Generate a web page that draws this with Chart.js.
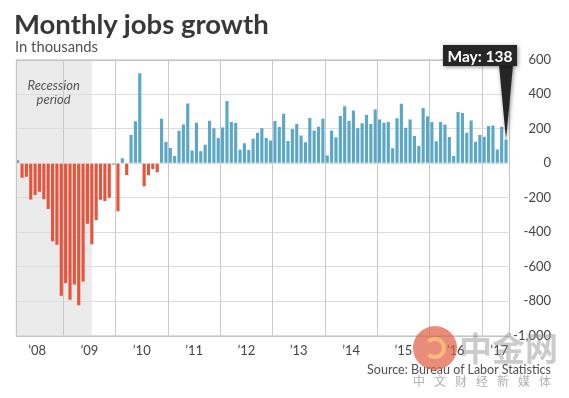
<!DOCTYPE html>
<html lang="en">
<head>
  <meta charset="UTF-8" />
  <title>Monthly jobs growth</title>
  <script src="https://cdn.jsdelivr.net/npm/chart.js"></script>
  <style>
    html, body { margin: 0; padding: 0; background: #fff; }
    #wrap { position: relative; width: 569px; height: 398px; overflow: hidden; font-family: Lato, "Open Sans", sans-serif; }
    #chart { position: absolute; left: 0; top: 0; }
    .title { position: absolute; left: 14px; top: 7px; font-size: 27.5px; font-weight: 700; color: #383838; line-height: 33px; white-space: nowrap; }
    .sub { position: absolute; left: 15px; top: 38px; font-size: 14.8px; color: #505050; line-height: 16px; white-space: nowrap; }
    .source { position: absolute; right: 18px; top: 362px; font-size: 12.5px; color: #505050; line-height: 16px; white-space: nowrap; }
    .wm-logo { position: absolute; left: 413px; top: 326px; width: 44px; height: 44px; border-radius: 50%; background: rgba(226, 95, 70, 0.72); }
    .wm-logo::after { content: ""; position: absolute; left: 11px; top: 11px; width: 22px; height: 22px; border-radius: 50%; border: 4px solid rgba(250, 200, 120, 0.8); border-left-color: transparent; box-sizing: border-box; }
    .wm-big { position: absolute; left: 459px; top: 326px; font-size: 33px; font-weight: 700; color: rgba(140, 140, 140, 0.45); font-family: "Noto Sans CJK SC", sans-serif; line-height: 42px; white-space: nowrap; }
    .wm-small { position: absolute; left: 413px; top: 373px; font-size: 12px; color: #b0b0b0; letter-spacing: 9px; font-family: "Noto Sans CJK SC", sans-serif; line-height: 16px; white-space: nowrap; }
  </style>
</head>
<body>
<div id="wrap">
  <canvas id="chart" width="569" height="398"></canvas>
  <div class="title">Monthly jobs growth</div>
  <div class="sub">In thousands</div>
  <div class="source">Source: Bureau of Labor Statistics</div>
  <div class="wm-logo"></div>
  <div class="wm-big">中金网</div>
  <div class="wm-small">中文财经新媒体</div>
</div>

<script>
  // monthly change in nonfarm payrolls, thousands, Jan 2008 - May 2017
  const jobs = [
    17, -84, -78, -210, -185, -165, -209, -266, -452, -473, -769, -695,   // 2008
    -791, -703, -823, -686, -351, -470, -329, -212, -219, -200, -7, -279, // 2009
    28, -69, 163, 243, 522, -133, -70, -34, -52, 257, 123, 88,            // 2010
    42, 188, 225, 346, 73, 235, 70, 107, 246, 202, 146, 207,              // 2011
    360, 239, 233, 78, 115, 76, 142, 177, 202, 146, 132, 245,             // 2012
    210, 287, 129, 198, 227, 161, 121, 262, 190, 212, 258, 45,            // 2013
    190, 150, 274, 330, 246, 305, 202, 231, 279, 227, 312, 254,           // 2014
    235, 239, 86, 260, 345, 206, 254, 157, 99, 320, 272, 239,             // 2015
    127, 239, 225, 152, 42, 297, 291, 177, 248, 124, 164, 154,            // 2016
    216, 219, 80, 212, 138                                                 // 2017
  ];
  const monthNames = ['Jan','Feb','Mar','Apr','May','Jun','Jul','Aug','Sep','Oct','Nov','Dec'];
  const years = [2008, 2009, 2010, 2011, 2012, 2013, 2014, 2015, 2016, 2017];
  const yearLabels = ["’08", "’09", "’10", "’11", "’12", "’13", "’14", "’15", "’16", "’17"];
  const recessionEnd = 'Jun 2009';

  const months = [];
  years.forEach(y => monthNames.forEach(m => { if (months.length < jobs.length) months.push(m + ' ' + y); }));

  // label each year roughly in the middle of its months
  function yearLabelFor(i) {
    const yr = Math.floor(i / 12), m = i % 12;
    const inYear = Math.min(12, jobs.length - yr * 12);
    const mid = inYear === 12 ? 4 : Math.floor((inYear - 1) / 2);
    return m === mid ? yearLabels[yr] : '';
  }

  const BLUE = '#5aa7c7', RED = '#e6543c';

  const extras = {
    id: 'extras',
    beforeDraw(chart) {
      const { ctx, chartArea: a, scales: { x } } = chart;
      const end = x.getPixelForValue(months.indexOf(recessionEnd));
      ctx.save();
      ctx.fillStyle = '#ebebeb';
      ctx.fillRect(a.left, a.top, end - a.left, a.bottom - a.top);
      ctx.fillStyle = '#555';
      ctx.font = 'italic 13px Lato, sans-serif';
      ctx.textAlign = 'center';
      ctx.textBaseline = 'middle';
      const cx = (a.left + end) / 2;
      ctx.fillText('Recession', cx, 86);
      ctx.fillText('period', cx, 100);
      ctx.restore();
    },
    afterDraw(chart) {
      const { ctx, chartArea: a } = chart;
      ctx.save();
      ctx.strokeStyle = '#c4c4c4';
      ctx.lineWidth = 1;
      ctx.strokeRect(Math.round(a.left) + 0.5, Math.round(a.top) + 0.5,
        Math.round(a.right - a.left), Math.round(a.bottom - a.top));

      // callout on the latest month
      const last = jobs.length - 1;
      const bar = chart.getDatasetMeta(0).data[last];
      const tipX = bar.x, tipY = bar.y;
      const bw = 74, bh = 21;
      const bx = tipX + 11 - bw, by = 45;
      ctx.shadowColor = 'rgba(0,0,0,0.45)';
      ctx.shadowBlur = 4;
      ctx.shadowOffsetX = 1;
      ctx.shadowOffsetY = 1;
      ctx.fillStyle = '#262626';
      ctx.beginPath();
      ctx.moveTo(tipX - 7, by + bh - 1);
      ctx.lineTo(tipX + 7, by + bh - 1);
      ctx.lineTo(tipX, tipY);
      ctx.closePath();
      ctx.fill();
      ctx.fillRect(bx, by, bw, bh);
      ctx.shadowColor = 'transparent';
      ctx.fillStyle = '#fff';
      ctx.font = 'bold 15.5px Lato, sans-serif';
      ctx.textAlign = 'center';
      ctx.textBaseline = 'middle';
      ctx.fillText(months[last].slice(0, 3) + ': ' + jobs[last], bx + bw / 2, by + bh / 2 + 1);
      ctx.restore();
    }
  };

  new Chart(document.getElementById('chart'), {
    type: 'bar',
    data: {
      labels: months,
      datasets: [{
        data: jobs,
        backgroundColor: ctx => ctx.raw < 0 ? RED : BLUE,
        barPercentage: 0.72,
        categoryPercentage: 1
      }]
    },
    options: {
      responsive: false,
      animation: false,
      layout: { padding: { left: 15.5, top: 59.7, right: 18, bottom: 42.3 } },
      plugins: { legend: { display: false }, tooltip: { enabled: false } },
      scales: {
        x: {
          grid: {
            color: ctx => (ctx.index % 12 === 11) ? '#c8c8c8' : 'transparent',
            drawTicks: false
          },
          border: { display: false },
          ticks: {
            autoSkip: false,
            maxRotation: 0,
            minRotation: 0,
            padding: 7,
            labelOffset: 2,
            color: '#444',
            font: { family: 'Lato, sans-serif', size: 13 },
            callback: (v, i) => yearLabelFor(i)
          },
          afterFit: s => { s.height = 20; }
        },
        y: {
          position: 'right',
          min: -1000,
          max: 600,
          grid: { color: '#dcdcdc', drawTicks: false },
          border: { display: false },
          ticks: {
            stepSize: 200,
            crossAlign: 'far',
            color: '#444',
            font: { family: 'Lato, sans-serif', size: 13 }
          },
          afterFit: s => { s.width = 42.8; }
        }
      }
    },
    plugins: [extras]
  });
</script>
</body>
</html>
